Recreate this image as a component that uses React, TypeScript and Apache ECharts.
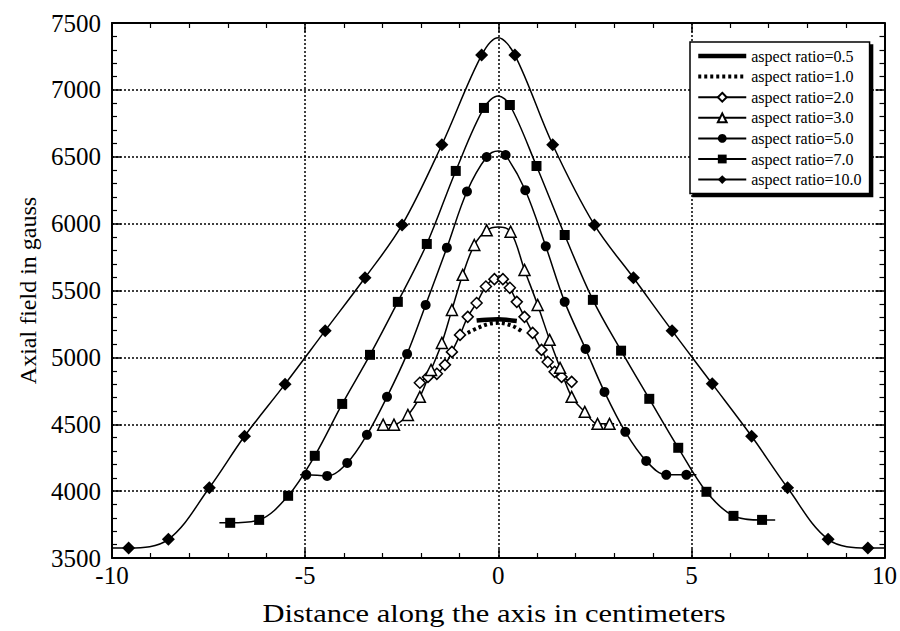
import React, { useEffect, useRef } from "react";
import * as echarts from "echarts";

const seriesNames = [
  "aspect ratio=0.5",
  "aspect ratio=1.0",
  "aspect ratio=2.0",
  "aspect ratio=3.0",
  "aspect ratio=5.0",
  "aspect ratio=7.0",
  "aspect ratio=10.0",
];

const xTitle = "Distance along the axis in centimeters";
const yTitle = "Axial field in gauss";
const xTickLabels = ["-10", "-5", "0", "5", "10"];
const yTickLabels = ["3500", "4000", "4500", "5000", "5500", "6000", "6500", "7000", "7500"];

// [distance (cm), axial field (gauss), marker drawn (1) or not (0)]
const ar05 = [
  [-0.56, 5275, 0], [-0.3, 5282, 0], [0, 5285, 0], [0.25, 5280, 0], [0.48, 5272, 0],
];
const ar10 = [
  [-0.79, 5183, 0], [-0.53, 5220, 0], [-0.25, 5250, 0], [0, 5258, 0], [0.37, 5235, 0], [0.63, 5190, 0],
];
const ar20 = [
  [-2.03, 4810, 1], [-1.82, 4854, 1], [-1.59, 4877, 1], [-1.38, 4944, 1], [-1.2, 5041, 1],
  [-0.99, 5168, 1], [-0.79, 5303, 1], [-0.56, 5407, 1], [-0.32, 5530, 1], [-0.1, 5585, 1],
  [0.12, 5585, 1], [0.3, 5520, 1], [0.48, 5415, 1], [0.68, 5303, 1], [0.89, 5183, 1],
  [1.12, 5056, 1], [1.28, 4966, 1], [1.46, 4892, 1], [1.64, 4854, 1], [1.9, 4817, 1],
];
const ar30 = [
  [-3.1, 4497, 0], [-2.98, 4497, 1], [-2.7, 4497, 1], [-2.34, 4570, 1], [-2.03, 4705, 1],
  [-1.74, 4906, 1], [-1.46, 5108, 1], [-1.2, 5355, 1], [-0.92, 5617, 1], [-0.62, 5840, 1],
  [-0.3, 5950, 1], [0, 5975, 0], [0.32, 5940, 1], [0.68, 5654, 1], [1.02, 5392, 1],
  [1.33, 5131, 1], [1.6, 4922, 1], [1.9, 4705, 1], [2.24, 4593, 1], [2.57, 4503, 1],
  [2.88, 4503, 1], [3.0, 4503, 0],
];
const ar50 = [
  [-5.13, 4122, 0], [-4.97, 4122, 1], [-4.43, 4114, 1], [-3.91, 4211, 1], [-3.4, 4421, 1],
  [-2.88, 4705, 1], [-2.36, 5026, 1], [-1.88, 5392, 1], [-1.33, 5820, 1], [-0.81, 6240, 1],
  [-0.3, 6498, 1], [0, 6543, 0], [0.19, 6513, 1], [0.7, 6250, 1], [1.23, 5830, 1],
  [1.72, 5415, 1], [2.26, 5063, 1], [2.75, 4742, 1], [3.29, 4443, 1], [3.83, 4226, 1],
  [4.35, 4122, 1], [4.87, 4122, 1], [5.13, 4122, 0],
];
const ar70 = [
  [-7.22, 3763, 0], [-6.94, 3763, 1], [-6.19, 3785, 1], [-5.44, 3965, 1], [-4.75, 4264, 1],
  [-4.04, 4652, 1], [-3.32, 5019, 1], [-2.6, 5415, 1], [-1.85, 5848, 1], [-1.1, 6394, 1],
  [-0.37, 6865, 1], [0, 6954, 0], [0.3, 6887, 1], [0.99, 6431, 1], [1.72, 5915, 1],
  [2.45, 5430, 1], [3.18, 5050, 1], [3.91, 4690, 1], [4.66, 4324, 1], [5.39, 3995, 1],
  [6.09, 3815, 1], [6.83, 3785, 1], [7.17, 3785, 0],
];
const ar100 = [
  [-10, 3575, 0], [-9.57, 3575, 1], [-8.54, 3640, 1], [-7.48, 4025, 1], [-6.57, 4410, 1],
  [-5.52, 4800, 1], [-4.48, 5200, 1], [-3.45, 5595, 1], [-2.49, 5990, 1], [-1.46, 6590, 1],
  [-0.43, 7260, 1], [0, 7390, 0], [0.43, 7260, 1], [1.41, 6590, 1], [2.49, 5990, 1],
  [3.5, 5595, 1], [4.5, 5200, 1], [5.54, 4802, 1], [6.56, 4410, 1], [7.49, 4025, 1],
  [8.54, 3640, 1], [9.57, 3575, 1], [10, 3575, 0],
];

const FONT = "'Liberation Serif', 'Times New Roman', serif";

function toData(arr: number[][]) {
  return arr.map((p) =>
    p[2] ? { value: [p[0], p[1]] } : { value: [p[0], p[1]], symbol: "none" }
  );
}

export default function App() {
  const ref = useRef<HTMLDivElement>(null);
  useEffect(() => {
    if (!ref.current) return;
    const chart = echarts.init(ref.current, null, { renderer: "svg" });
    const lineBase = { color: "#000", width: 1.5 };
    const thick05 = { color: "#000", width: 4.5 };
    const dotted10 = { color: "#000", width: 4, type: [3, 3] };
    const mk = (
      name: string,
      arr: number[][],
      symbol: string,
      size: number,
      fill: string,
      line: any = lineBase
    ) => ({
      name,
      type: "line",
      data: toData(arr),
      symbol,
      symbolSize: size,
      smooth: 0.35,
      showSymbol: true,
      itemStyle: {
        color: fill,
        borderColor: symbol === "none" ? "rgba(0,0,0,0)" : "#000",
        borderWidth: fill === "#fff" ? 1.5 : 0,
      },
      lineStyle: line,
      z: 5,
    });
    const axisCommon = {
      axisLine: { onZero: false, lineStyle: { color: "#000", width: 2 } },
      axisTick: { inside: true, length: 9, lineStyle: { color: "#000", width: 1.5 } },
      minorTick: { show: true, splitNumber: 5, length: 5, lineStyle: { color: "#000", width: 1.2 } },
    };
    chart.setOption({
      animation: false,
      backgroundColor: "#fff",
      grid: { left: 112, right: 14, top: 23, bottom: 73 },
      graphic: [
        {
          type: "text",
          x: 494,
          y: 613,
          scaleX: 1.22,
          style: {
            text: xTitle,
            fill: "#000",
            font: `25px ${FONT}`,
            textAlign: "center",
            textVerticalAlign: "middle",
          },
        },
      ],
      xAxis: [
        {
          type: "value",
          min: -10,
          max: 10,
          interval: 5,
          position: "bottom",
          ...axisCommon,
          axisLabel: {
            color: "#000",
            fontSize: 25,
            fontFamily: FONT,
            margin: 5,
            formatter: (v: number) => xTickLabels[Math.round((v + 10) / 5)],
          },
          splitLine: { show: true, lineStyle: { color: "#000", type: [2, 2], width: 1.5 } },
        },
        {
          type: "value",
          min: -10,
          max: 10,
          interval: 5,
          position: "top",
          ...axisCommon,
          axisLabel: { show: false },
          splitLine: { show: false },
        },
      ],
      yAxis: [
        {
          type: "value",
          min: 3500,
          max: 7500,
          interval: 500,
          position: "left",
          ...axisCommon,
          axisLabel: {
            color: "#000",
            fontSize: 25,
            fontFamily: FONT,
            margin: 11,
            formatter: (v: number) => yTickLabels[Math.round((v - 3500) / 500)],
          },
          splitLine: { show: true, lineStyle: { color: "#000", type: [2, 2], width: 1.5 } },
          name: yTitle,
          nameLocation: "middle",
          nameGap: 70,
          nameTextStyle: { color: "#000", fontSize: 24, fontFamily: FONT },
        },
        {
          type: "value",
          min: 3500,
          max: 7500,
          interval: 500,
          position: "right",
          ...axisCommon,
          axisLabel: { show: false },
          splitLine: { show: false },
        },
      ],
      legend: {
        data: seriesNames.map((n, i) =>
          i === 0
            ? { name: n, lineStyle: thick05 }
            : i === 1
            ? { name: n, lineStyle: dotted10 }
            : { name: n }
        ),
        orient: "vertical",
        left: 690,
        top: 42,
        itemWidth: 48,
        itemHeight: 11,
        itemGap: 2.6,
        padding: [5, 8, 5, 6],
        backgroundColor: "#fff",
        borderColor: "#000",
        borderWidth: 1.5,
        shadowColor: "#000",
        shadowOffsetX: 3,
        shadowOffsetY: 3,
        shadowBlur: 0,
        textStyle: { color: "#000", fontSize: 16, fontFamily: FONT, lineHeight: 18 },
        z: 10,
      },
      series: [
        mk(seriesNames[0], ar05, "none", 0, "rgba(0,0,0,0)", thick05),
        mk(seriesNames[1], ar10, "none", 0, "rgba(0,0,0,0)", dotted10),
        mk(seriesNames[2], ar20, "diamond", 11, "#fff"),
        mk(seriesNames[3], ar30, "triangle", 11, "#fff"),
        mk(seriesNames[4], ar50, "circle", 10, "#000"),
        mk(seriesNames[5], ar70, "rect", 10, "#000"),
        mk(seriesNames[6], ar100, "diamond", 13, "#000"),
      ],
    });
    return () => chart.dispose();
  }, []);
  return (
    <div
      ref={ref}
      style={{ position: "fixed", left: 0, top: 0, width: 900, height: 631 }}
    />
  );
}
